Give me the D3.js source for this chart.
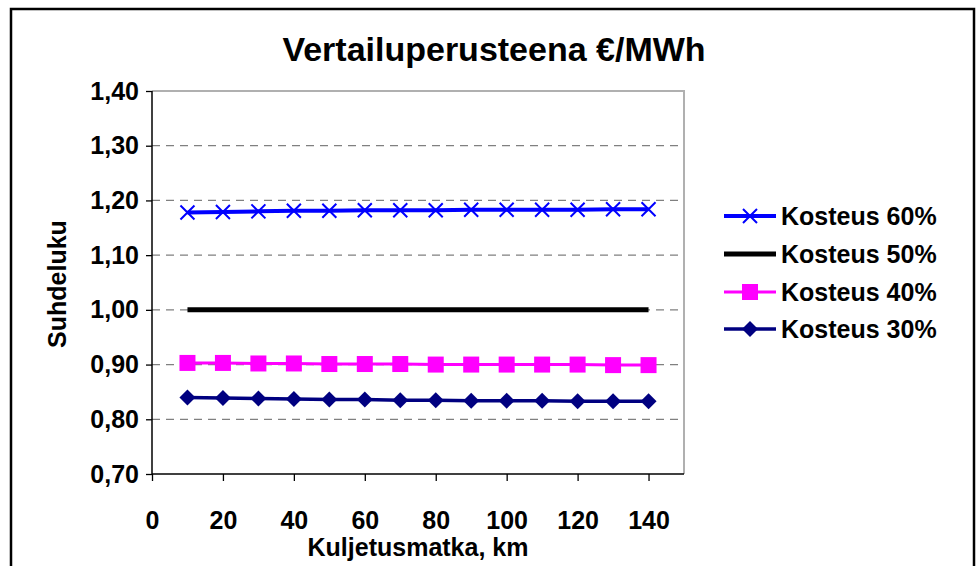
<!DOCTYPE html>
<html><head><meta charset="utf-8">
<script src="https://cdn.jsdelivr.net/npm/d3@7"></script>
<style>body{margin:0;background:#fff;}svg{display:block;font-family:"Liberation Sans",Arial,sans-serif;}</style>
</head><body>
<svg id="c" width="977" height="566"></svg>
<script>
const distances = [10,20,30,40,50,60,70,80,90,100,110,120,130,140];
const seriesNames = ["Kosteus 60%","Kosteus 50%","Kosteus 40%","Kosteus 30%"];
const moist60 = [1.178,1.179,1.180,1.181,1.181,1.182,1.182,1.182,1.183,1.183,1.183,1.183,1.184,1.184];
const moist50 = [1.000,1.000,1.000,1.000,1.000,1.000,1.000,1.000,1.000,1.000,1.000,1.000,1.000,1.000];
const moist40 = [0.903,0.903,0.902,0.902,0.901,0.901,0.901,0.900,0.900,0.900,0.900,0.900,0.899,0.899];
const moist30 = [0.840,0.839,0.838,0.837,0.836,0.836,0.835,0.835,0.834,0.834,0.834,0.833,0.833,0.833];
const xTicks = [0,20,40,60,80,100,120,140];
const yTicks = [0.70,0.80,0.90,1.00,1.10,1.20,1.30,1.40];
const titleText = "Vertailuperusteena €/MWh";
const xLabel = "Kuljetusmatka, km";
const yLabel = "Suhdeluku";

const FS = 25;
const svg = d3.select("#c");
// outer frame
svg.append("rect").attr("x",11).attr("y",9).attr("width",963).attr("height",600)
  .attr("fill","#fff").attr("stroke","#000").attr("stroke-width",2.5);

const L=152, R=684, T=91, B=474;
const x = d3.scaleLinear().domain([0,150]).range([L,R]);
const y = d3.scaleLinear().domain([0.70,1.40]).range([B,T]);

// grid
svg.append("g").selectAll("line").data(yTicks.filter(v=>v>0.71 && v<1.39)).join("line")
  .attr("x1",L).attr("x2",R).attr("y1",d=>y(d)).attr("y2",d=>y(d))
  .attr("stroke","#808080").attr("stroke-width",1.3).attr("stroke-dasharray","8,6");
// plot border top/right
svg.append("path").attr("d",`M${L},${T}H${R}V${B}`).attr("fill","none").attr("stroke","#b0b0b0").attr("stroke-width",2);

const fmt = d => d3.format(".2f")(d).replace(".",",");
const yAxis = svg.append("g").attr("transform",`translate(${L},0)`)
  .call(d3.axisLeft(y).tickValues(yTicks).tickSize(6).tickPadding(7).tickFormat(fmt));
const xAxis = svg.append("g").attr("transform",`translate(0,${B})`)
  .call(d3.axisBottom(x).tickValues(xTicks).tickSize(7).tickPadding(30).tickFormat(d3.format("d")));
[yAxis,xAxis].forEach(a=>{
  a.select(".domain").attr("stroke","#000").attr("stroke-width",1.5);
  a.selectAll(".tick line").attr("stroke","#000").attr("stroke-width",1.3);
  a.selectAll("text").attr("font-family","'Liberation Sans',Arial,sans-serif")
    .attr("font-size",FS).attr("font-weight","bold").attr("fill","#000");
});
yAxis.select(".domain").attr("d",`M0,${T}V${B}`);
xAxis.select(".domain").attr("d",`M${L},0H${R}`);

const series = [
  {name:seriesNames[0], vals:moist60, color:"#0000FF", w:4, marker:"x"},
  {name:seriesNames[1], vals:moist50, color:"#000000", w:5, marker:"none"},
  {name:seriesNames[2], vals:moist40, color:"#FF00FF", w:3, marker:"square"},
  {name:seriesNames[3], vals:moist30, color:"#000080", w:3.5, marker:"diamond"}
];

function drawMarker(g, type, color){
  if(type==="x"){
    g.append("path").attr("d","M-7,-7L7,7M-7,7L7,-7").attr("stroke",color).attr("stroke-width",2).attr("fill","none");
  } else if(type==="square"){
    g.append("rect").attr("x",-8).attr("y",-8).attr("width",16).attr("height",16).attr("fill",color);
  } else if(type==="diamond"){
    g.append("path").attr("d","M0,-8L8,0L0,8L-8,0Z").attr("fill",color);
  }
}

const line = d3.line().x((d,i)=>x(distances[i])).y(d=>y(d));
series.forEach(s=>{
  svg.append("path").datum(s.vals).attr("d",line).attr("fill","none")
    .attr("stroke",s.color).attr("stroke-width",s.w);
  s.vals.forEach((v,i)=>{
    const g = svg.append("g").attr("transform",`translate(${x(distances[i])},${y(v)})`);
    drawMarker(g,s.marker,s.color);
  });
});

// legend
const legY = [216,254,292,329];
series.forEach((s,i)=>{
  const g = svg.append("g").attr("transform",`translate(0,${legY[i]})`);
  g.append("line").attr("x1",724).attr("x2",776).attr("y1",0).attr("y2",0)
    .attr("stroke",s.color).attr("stroke-width",s.w);
  const m = g.append("g").attr("transform","translate(750,0)");
  drawMarker(m,s.marker,s.color);
  g.append("text").attr("x",781).attr("y",9).attr("font-size",FS).attr("font-weight","bold").text(s.name);
});

// title & axis labels
svg.append("text").attr("x",494).attr("y",61).attr("text-anchor","middle")
  .attr("font-size",34).attr("font-weight","bold").text(titleText);
svg.append("text").attr("x",418).attr("y",556).attr("text-anchor","middle")
  .attr("font-size",FS).attr("font-weight","bold").text(xLabel);
svg.append("text").attr("transform",`translate(66,284) rotate(-90)`).attr("text-anchor","middle")
  .attr("font-size",FS).attr("font-weight","bold").text(yLabel);
</script>
</body></html>
